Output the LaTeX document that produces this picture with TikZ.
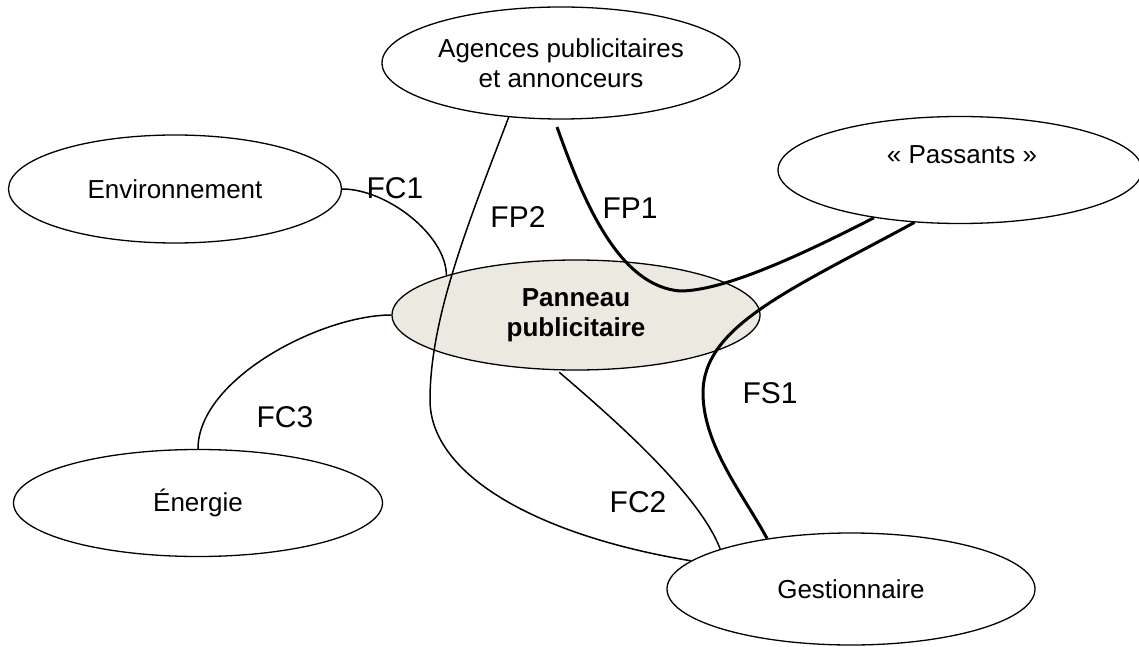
\documentclass[tikz,border=0pt]{standalone}
\usepackage{fontspec}
\setmainfont{Liberation Sans}
\usetikzlibrary{shapes.geometric}
\definecolor{panfill}{RGB}{236,234,224}
\begin{document}
\begin{tikzpicture}[x=1pt,y=1pt,
  ell/.style={draw, ellipse, line width=1.3pt, inner sep=0pt, align=center,
              font=\fontsize{26}{30}\selectfont},
  conn/.style={line width=1.5pt},
  connbold/.style={line width=3pt},
  lbl/.style={font=\fontsize{30}{34}\selectfont, inner sep=0pt}]
\useasboundingbox (0,0) rectangle (1139,646);

% ellipses
\node[ell, minimum width=358pt, minimum height=112pt] (ag) at (561,583) {Agences publicitaires\\et annonceurs};
\node[ell, minimum width=333pt, minimum height=108pt] (env) at (175,457) {Environnement};
\node[ell, minimum width=364pt, minimum height=107pt] (pas) at (960,476) {};
\node[inner sep=0pt, font=\fontsize{26}{30}\selectfont] (pastxt) at (962,491) {« Passants »};
\node[ell, fill=panfill, minimum width=368pt, minimum height=110pt, font=\fontsize{26}{30}\selectfont\bfseries] (pan) at (576,331) {Panneau\\publicitaire};
\node[ell, minimum width=369pt, minimum height=107pt] (ene) at (198,143) {Énergie};
\node[ell, minimum width=368pt, minimum height=112pt] (ges) at (851,57) {Gestionnaire};

\coordinate (fp1s) at (557,519);

% connectors
\draw[conn] (env.east) .. controls +(45,0) and +(0,40) .. (pan.163);
\draw[conn] (pan.west) .. controls +(-70,0) and +(0,70) .. (ene.north);
\draw[conn] (ag.226) .. controls (470,427) and (430,330) .. (430,246)
                     .. controls (430,170) and (540,110) .. (ges.170);
\draw[conn, shorten <=3pt] (pan.251) .. controls (620,222) and (700,150) .. (ges.163);
\draw[connbold] (fp1s) .. controls (585,440) and (620,360) .. (680,355)
                       .. controls (720,355) and (790,385) .. (pas.209);
\draw[connbold] (pas.229) .. controls (790,356) and (703,320) .. (703,253)
                          .. controls (703,200) and (745,149) .. (ges.149);

% labels
\node[lbl] (lfc1) at (395,458) {FC1};
\node[lbl] (lfp2) at (518,429) {FP2};
\node[lbl] (lfp1) at (630,438) {FP1};
\node[lbl] (lfc3) at (285,229) {FC3};
\node[lbl] (lfc2) at (638,144) {FC2};
\node[lbl] (lfs1) at (770,253) {FS1};
\end{tikzpicture}
\end{document}
